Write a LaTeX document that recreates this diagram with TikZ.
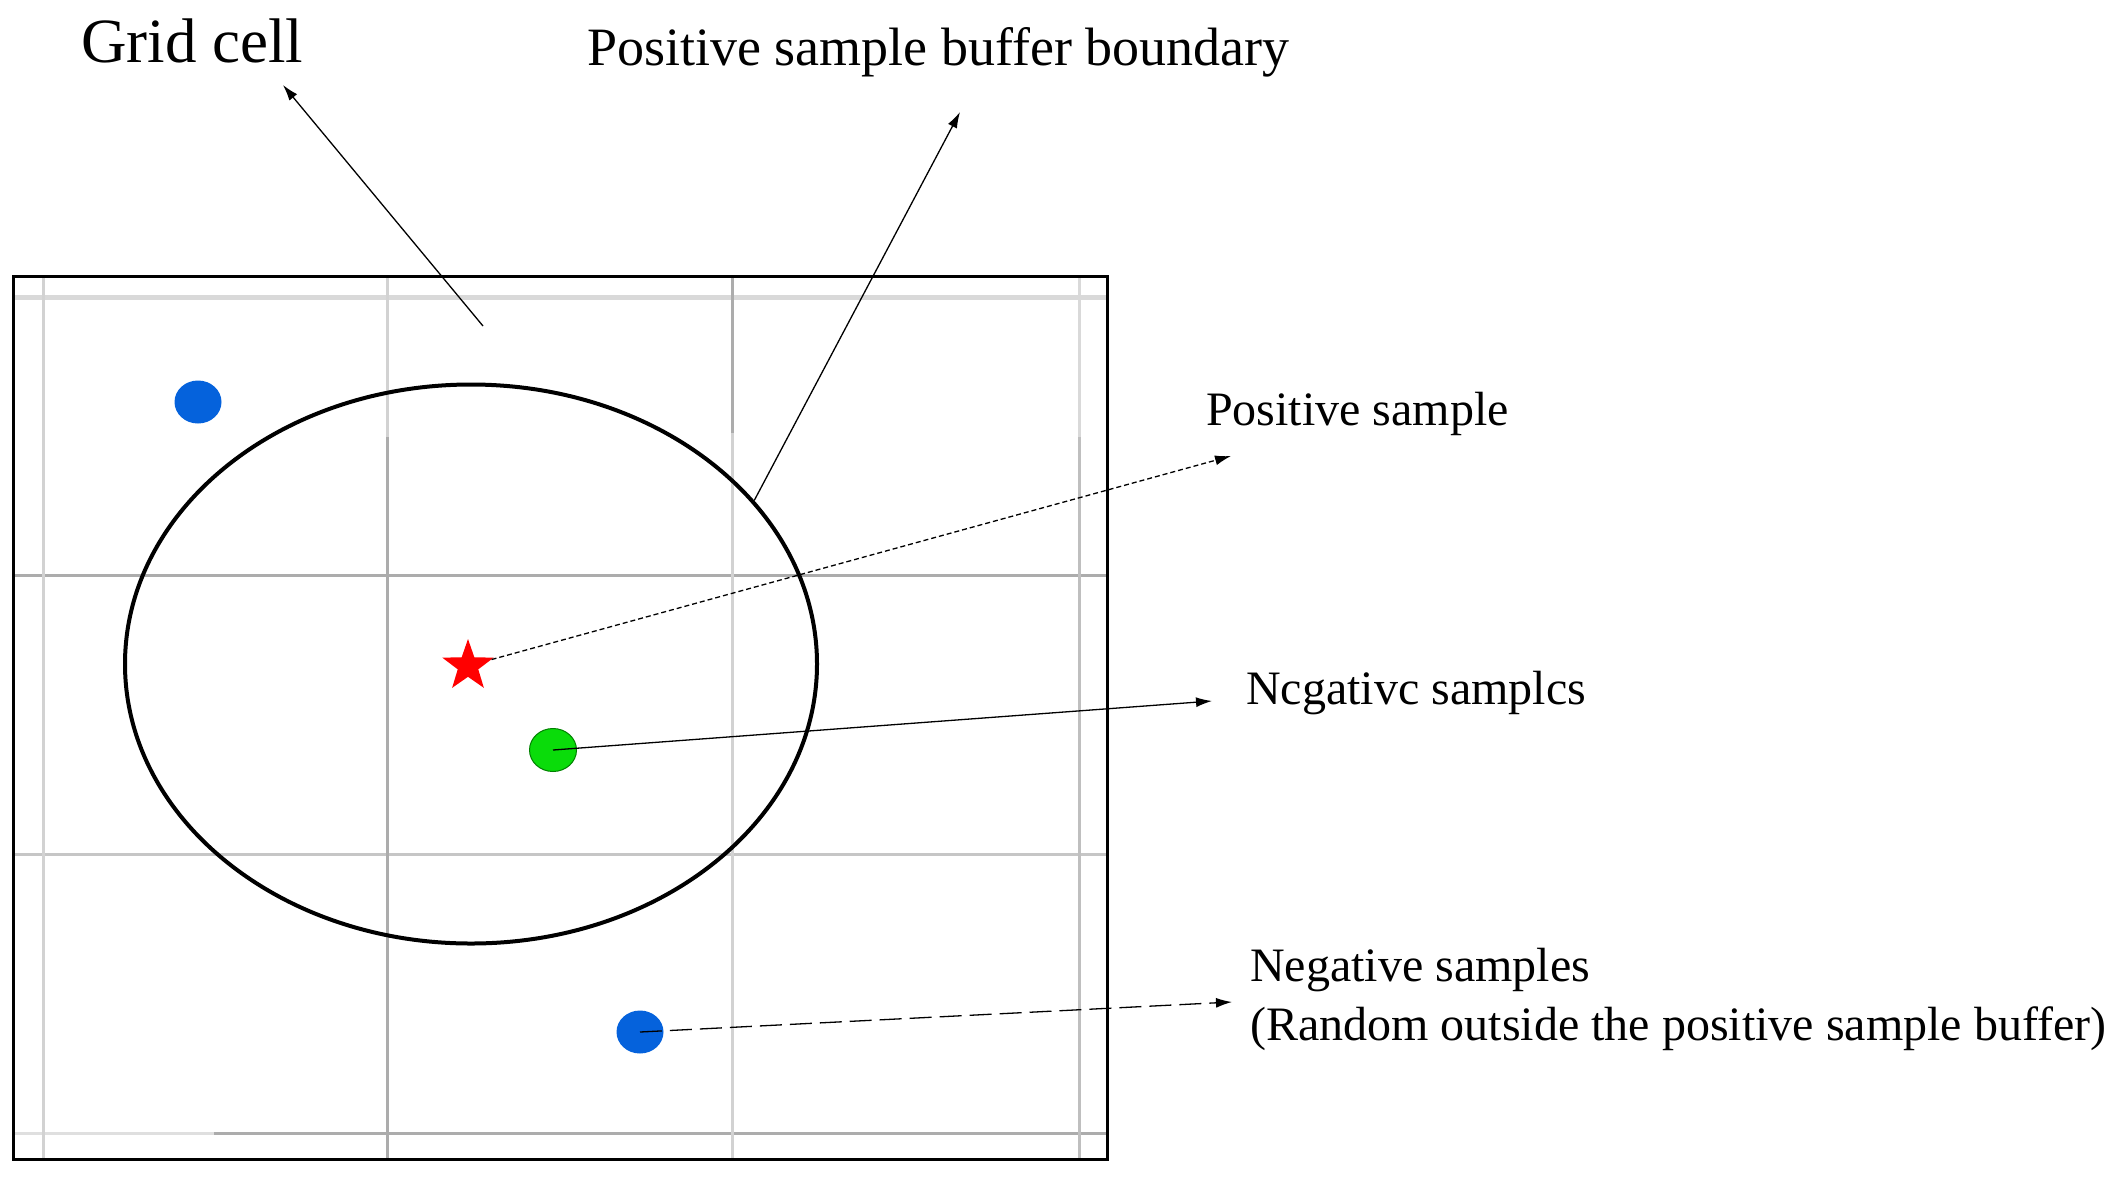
\documentclass[tikz,border=0pt]{standalone}
\usepackage{fontspec}
\setmainfont{Liberation Serif}
\usetikzlibrary{shapes.geometric,arrows.meta}
\definecolor{dotblue}{RGB}{5,98,220}
\definecolor{dotgreen}{RGB}{10,220,10}
\begin{document}
\begin{tikzpicture}[x=1pt,y=-1pt]
	\tikzstyle{sample dot}=[ellipse,minimum width=47pt,minimum height=43pt,inner sep=0]
	\tikzstyle{label text}=[anchor=base west,inner sep=0,align=left,font=\fontsize{48}{59}\selectfont]
	\tikzstyle{pointer}=[line width=1.3pt,-{Latex[length=16pt,width=10pt]}]
	\useasboundingbox (0,0) rectangle (2114,1179);
	% grid lines
	\draw[gray!30,line width=5pt](13,297)--(1107,297);
	\draw[gray!65,line width=3pt](13,575)--(1107,575);
	\draw[gray!45,line width=3pt](13,854)--(1107,854);
	\draw[gray!25,line width=3pt](13,1133)--(214,1133);
	\draw[gray!65,line width=3pt](214,1133)--(1107,1133);
	\draw[gray!35,line width=3pt](43,276)--(43,1159);
	\draw[gray!35,line width=3pt](387,276)--(387,437);
	\draw[gray!65,line width=3pt](387,437)--(387,1159);
	\draw[gray!65,line width=3pt](732,276)--(732,433);
	\draw[gray!35,line width=3pt](732,433)--(732,1159);
	\draw[gray!30,line width=3pt](1079,276)--(1079,437);
	\draw[gray!50,line width=3pt](1079,437)--(1079,1159);
	\draw[line width=3pt](13,276)rectangle(1107,1159);
	% buffer and samples
	\node(buffer)[ellipse,draw,line width=4pt,minimum width=692pt,minimum height=559pt,inner sep=0] at (471,664){};
	\node(pos)[star,star points=5,star point ratio=2.5,fill=red,minimum size=54pt,inner sep=0] at (468,666){};
	\node(green)[sample dot,fill=dotgreen,draw=green!50!black,line width=1pt] at (553,750){};
	\node(blue1)[sample dot,fill=dotblue] at (198,402){};
	\node(blue2)[sample dot,fill=dotblue] at (640,1032){};
	% labels
	\node(gridlbl)[label text,font=\fontsize{63}{70}\selectfont] at (81,62){Grid cell};
	\node(buflbl)[label text,font=\fontsize{54}{60}\selectfont] at (587,65){Positive sample buffer boundary};
	\node(poslbl)[label text] at (1206,425){Positive sample};
	\node(neglbl)[label text] at (1246,704){Ncgativc samplcs};
	\node(outlbl)[label text] at (1250,1040){Negative samples\\(Random outside the positive sample buffer)};
	% pointers
	\coordinate(cellpt) at (483,326);
	\coordinate(gridtip) at (283,85);
	\coordinate(buftip) at (960,112);
	\coordinate(postip) at (1231,456);
	\coordinate(negtip) at (1212,701);
	\coordinate(outtip) at (1232,1002);
	\draw[pointer](cellpt)--(gridtip);
	\draw[pointer](buffer.30)--(buftip);
	\draw[pointer,dash pattern=on 5pt off 3pt](pos)--(postip);
	\draw[pointer](green.center)--(negtip);
	\draw[pointer,dash pattern=on 22pt off 8pt](blue2.center)--(outtip);
\end{tikzpicture}
\end{document}
